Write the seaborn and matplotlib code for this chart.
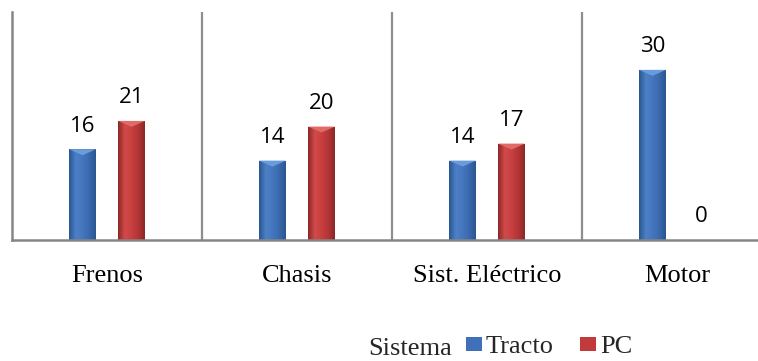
import numpy as np
import pandas as pd
import matplotlib
matplotlib.use("Agg")
import matplotlib.pyplot as plt
import seaborn as sns
from matplotlib.colors import LinearSegmentedColormap
from matplotlib.patches import Polygon, Rectangle
from matplotlib.font_manager import FontProperties

# Data
categories = ["Frenos", "Chasis", "Sist. Eléctrico", "Motor"]
series = ["Tracto", "PC"]
tracto = [16, 14, 14, 30]
pc = [21, 20, 17, 0]

df = pd.DataFrame({
    "Sistema": categories * 2,
    "Valor": tracto + pc,
    "Serie": ["Tracto"] * len(categories) + ["PC"] * len(categories),
})

sns.set_theme(style="white")
plt.rcParams["font.family"] = ["Liberation Serif", "DejaVu Serif"]
serif = FontProperties(family="Liberation Serif", size=19)

W, H = 758, 361
fig = plt.figure(figsize=(W / 100, H / 100), dpi=100)
ax = fig.add_axes([12 / W, 121 / H, 760 / W, 228 / H])

palette = {"Tracto": "#3F70B8", "PC": "#C23B3B"}
sns.barplot(data=df, x="Sistema", y="Valor", hue="Serie", order=categories,
            hue_order=series, palette=palette, width=0.516, gap=0.45,
            saturation=1, legend=False, errorbar=None, ax=ax)

YMAX = 40.2
ax.set_xlim(-0.5, 3.5)
ax.set_ylim(0, YMAX)

# Bevelled gradient fill for each bar
shades = {
    "Tracto": ["#2A5690", "#4C80C6", "#4576BE", "#3A69AE", "#2A5690"],
    "PC": ["#8C2828", "#D24A49", "#C83F3F", "#B53535", "#8C2828"],
}
tops = {"Tracto": "#6A9BDA", "PC": "#E06A68"}
px_per_unit = ax.bbox.height / YMAX
bevel = 6 / px_per_unit
for name, cont in zip(series, ax.containers):
    cmap = LinearSegmentedColormap.from_list(name, shades[name])
    for rect in cont.patches:
        x0, w, h = rect.get_x(), rect.get_width(), rect.get_height()
        if h <= 0:
            continue
        grad = np.linspace(0, 1, 64)[None, :]
        im = ax.imshow(grad, cmap=cmap, extent=[x0, x0 + w, 0, h],
                       aspect="auto", origin="lower", zorder=rect.get_zorder() + 0.1)
        im.set_clip_path(rect)
        tri = Polygon([(x0, h), (x0 + w, h), (x0 + w / 2, h - bevel)],
                      closed=True, facecolor=tops[name], edgecolor="none",
                      zorder=rect.get_zorder() + 0.2)
        ax.add_patch(tri)
    ax.bar_label(cont, padding=9, fontsize=16, color="black",
                 family=["Open Sans", "DejaVu Sans"], zorder=5)

ax.set_xlim(-0.5, 3.5)
ax.set_ylim(0, YMAX)

# Category separators
ax.set_xticks([0.5, 1.5, 2.5], minor=True)
ax.grid(False)
ax.grid(which="minor", axis="x", color="#8E8E8E", linewidth=1.6)
ax.set_axisbelow(True)

ax.set_yticks([])
ax.set_xlabel("")
ax.set_ylabel("")
ax.set_xticks(range(len(categories)))
ax.set_xticklabels(categories, fontproperties=serif, color="black")
ax.tick_params(axis="x", which="both", length=0, pad=30)
for lbl in ax.get_xticklabels():
    lbl.set_verticalalignment("baseline")

for side in ["top", "right"]:
    ax.spines[side].set_visible(False)
for side in ["left", "bottom"]:
    ax.spines[side].set_color("#868686")
    ax.spines[side].set_linewidth(1.8)

# Legend
handles = [Rectangle((0, 0), 1, 1, facecolor=palette[s], edgecolor="none") for s in series]
fig.legend(handles, series, loc="lower left", bbox_to_anchor=(466 / W, 3 / H),
           ncol=2, frameon=False, handlelength=0.6, handleheight=0.45,
           handletextpad=0.15, columnspacing=1.0, borderpad=0, borderaxespad=0,
           prop=serif)
fig.text(368 / W, 6 / H, "Sistema", fontproperties=serif, va="baseline", ha="left")

fig.savefig("out.png", dpi=100)
